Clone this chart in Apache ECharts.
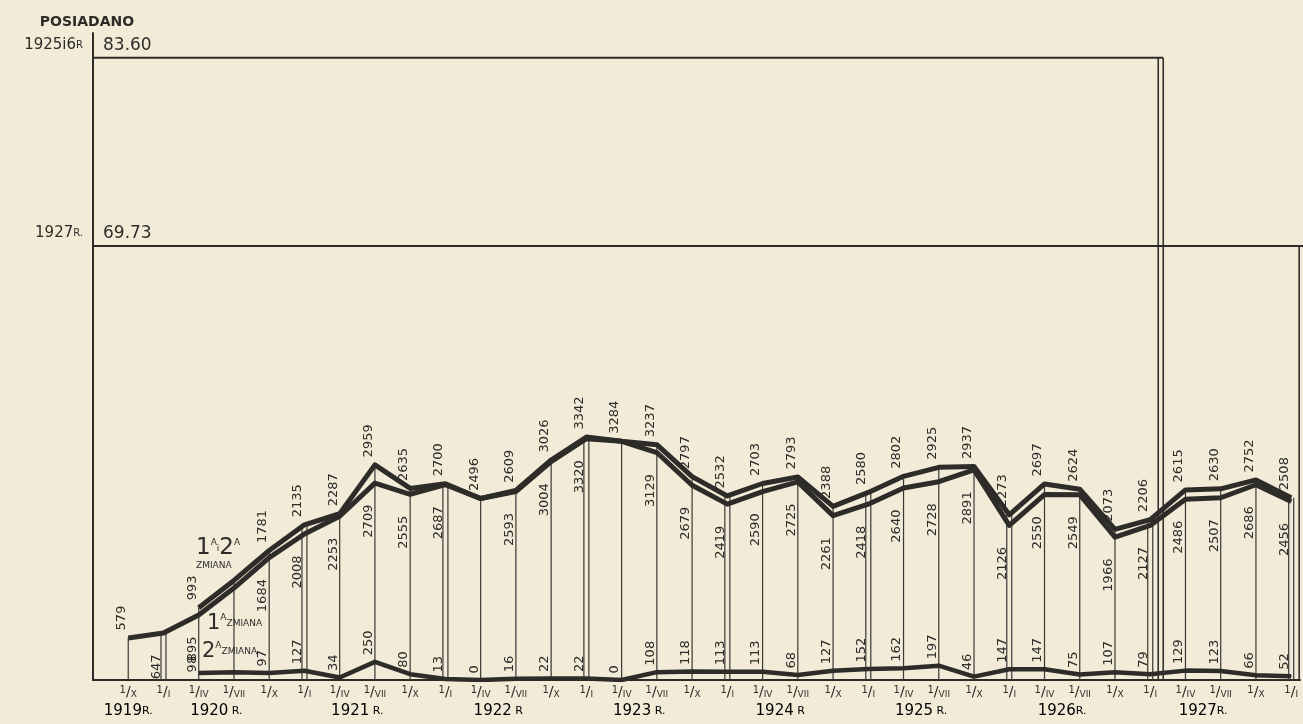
<!DOCTYPE html>
<html><head><meta charset="utf-8">
<script src="https://cdn.jsdelivr.net/npm/echarts@6/dist/echarts.min.js"></script>
<style>html,body{margin:0;padding:0;background:#f1ebd8}#c{width:1303px;height:724px}</style>
</head><body><div id="c"></div>
<script>
// quarters: 1/X 1919 ... 1/I 1928
const quarterLabels = ['X','I','IV','VII','X','I','IV','VII','X','I','IV','VII','X','I','IV','VII','X','I','IV','VII','X','I','IV','VII','X','I','IV','VII','X','I','IV','VII','X','I'];
const quarterYears = [1919,1920,1920,1920,1920,1921,1921,1921,1921,1922,1922,1922,1922,1923,1923,1923,1923,1924,1924,1924,1924,1925,1925,1925,1925,1926,1926,1926,1926,1927,1927,1927,1927,1928];
const yearValues = [1919,1920,1921,1922,1923,1924,1925,1926,1927];
const yearDigits = ['1919','1920','1921','1922','1923','1924','1925','1926','1927'];
const yearSuffix = ['R.',' R.',' R.',' R',' R.',' R',' R.','R.','R.'];
// 1a i 2a zmiana (both shifts)
const totalShifts = [null,null,993,1370,1781,2135,2287,2959,2635,2700,2496,2609,3026,3342,3284,3237,2797,2532,2703,2793,2388,2580,2802,2925,2937,2273,2697,2624,2073,2206,2615,2630,2752,2508];
// 1a zmiana (first shift)
const firstShift = [579,647,895,1265,1684,2008,2253,2709,2555,2687,2496,2593,3004,3320,3284,3129,2679,2419,2590,2725,2261,2418,2640,2728,2891,2126,2550,2549,1966,2127,2486,2507,2686,2456];
// 2a zmiana (second shift)
const secondShift = [null,null,98,105,97,127,34,250,80,13,0,16,22,22,0,108,118,113,113,68,127,152,162,197,46,147,147,75,107,79,129,123,66,52];
const unlabeled = [3];
// "posiadano" reference levels
const capacityValues = [8560, 5970];
const capacityLabels = ['83.60','69.73'];
const capacityYears = ['1925i6', '1927'];
const capacityYearSuffix = ['R', 'R.'];
const capacityEnd = [29, 33];

const INK = '#2e2c29';
const FONT = "'DejaVu Sans', sans-serif";

const chart = echarts.init(document.getElementById('c'), null, {renderer: 'canvas'});

function pairs(arr) { return arr.map((v, i) => [i, v]).filter(d => d[1] != null); }

const yearCenters = yearValues.map(y => {
  const idx = quarterYears.map((q, i) => q === y ? i : -1).filter(i => i >= 0);
  return idx.reduce((a, b) => a + b, 0) / idx.length;
});

const labelBase = {show: true, rotate: 90, color: INK, fontFamily: FONT, fontSize: 13};

const firstData = pairs(firstShift).map(d => {
  const item = {value: d};
  const i = d[0];
  if (i === 0) item.label = {position: 'top', distance: 7, align: 'left', verticalAlign: 'bottom'};
  if (unlabeled.includes(i) || secondShift[i] === 0) item.label = {show: false};
  return item;
});
const hideIdx = (arr) => pairs(arr).map(d => unlabeled.includes(d[0]) ? {value: d, label: {show: false}} : {value: d});
const secondData = hideIdx(secondShift).map((item, n) => n === 0 ? Object.assign(item, {label: {distance: 0}}) : item);

const option = {
  backgroundColor: '#f1ebd8',
  animation: false,
  grid: {left: 93, right: 0, top: 33, bottom: 44, containLabel: false},
  xAxis: {
    type: 'value', min: -1, max: 33.25, interval: 1,
    axisLine: {show: true, onZero: false, lineStyle: {color: INK, width: 2}},
    axisTick: {show: false}, splitLine: {show: false},
    axisLabel: {
      margin: 5, color: INK, fontFamily: FONT,
      formatter: v => {
        const k = Math.round(v);
        if (Math.abs(v - k) > 1e-6 || k < 0 || k >= quarterLabels.length) return '';
        return '{a|1}{s|/}{b|' + quarterLabels[k] + '}';
      },
      rich: {
        a: {fontSize: 10, fontFamily: FONT, color: INK, padding: [0, 0, 5, 0]},
        s: {fontSize: 14, fontFamily: FONT, color: INK},
        b: {fontSize: 9, fontFamily: FONT, color: INK, padding: [5, 0, 0, 0]}
      }
    }
  },
  yAxis: {
    type: 'value', min: 0, max: 8900,
    axisLine: {show: true, onZero: false, lineStyle: {color: INK, width: 2}},
    axisTick: {show: false}, axisLabel: {show: false}, splitLine: {show: false}
  },
  series: [
    {
      type: 'custom', name: 'drop', z: 1, silent: true,
      data: firstShift.map((v, i) => [i, totalShifts[i] != null ? totalShifts[i] : v]),
      encode: {x: 0, y: 1},
      renderItem: (params, api) => {
        const i = api.value(0), v = api.value(1);
        const top = api.coord([i, v]), bot = api.coord([i, 0]);
        const style = {stroke: '#3a3835', lineWidth: 1.2};
        if (quarterLabels[i] === 'I') {
          return {type: 'group', children: [-2.5, 2.5].map(dx => ({
            type: 'line', shape: {x1: top[0] + dx, y1: top[1], x2: bot[0] + dx, y2: bot[1]}, style
          }))};
        }
        return {type: 'line', shape: {x1: top[0], y1: top[1], x2: bot[0], y2: bot[1]}, style};
      }
    },
    {
      type: 'custom', name: 'frames', z: 1, silent: true,
      data: capacityValues.map((v, i) => [capacityEnd[i], v, i]),
      encode: {x: 0, y: 1},
      renderItem: (params, api) => {
        const end = api.value(0), level = api.value(1), k = api.value(2);
        const pl = api.coord([-1, level]);
        const pr = api.coord([end, level]);
        const pb = api.coord([end, 0]);
        const xr = pr[0] + 8;
        const style = {stroke: '#34322f', lineWidth: 1.6};
        const children = [
          {type: 'line', shape: {x1: pl[0], y1: pl[1], x2: xr + 5, y2: pr[1]}, style: {stroke: INK, lineWidth: 2}},
          {type: 'line', shape: {x1: xr, y1: pr[1], x2: xr, y2: pb[1]}, style},
          {type: 'line', shape: {x1: xr + 5, y1: pr[1], x2: xr + 5, y2: pb[1]}, style},
          {type: 'text', style: {text: capacityLabels[k], x: pl[0] + 10, y: pl[1] - 4, textAlign: 'left', textVerticalAlign: 'bottom', font: '17px ' + FONT, fill: INK}},
          {type: 'text', style: {text: '{y|' + capacityYears[k] + '}{r|' + capacityYearSuffix[k] + '}', x: pl[0] - 10, y: pl[1] - 5, textAlign: 'right', textVerticalAlign: 'bottom', fill: INK,
            rich: {y: {fontSize: 15, fontFamily: FONT, fill: INK, color: INK}, r: {fontSize: 10, fontFamily: FONT, fill: INK, color: INK}}}}
        ];
        if (k === 0) {
          children.push({type: 'text', style: {text: 'POSIADANO', x: pl[0] - 6, y: pl[1] - 28, textAlign: 'center', textVerticalAlign: 'bottom', font: 'bold 14px ' + FONT, fill: INK}});
        }
        return {type: 'group', children};
      }
    },
    {
      type: 'custom', name: 'years', z: 1, silent: true,
      data: yearCenters.map((c, i) => [c, 0, i]),
      encode: {x: 0, y: 1},
      renderItem: (params, api) => {
        const p = api.coord([api.value(0), 0]);
        const k = api.value(2);
        return {type: 'text', style: {
          text: '{y|' + yearDigits[k] + '}{r|' + yearSuffix[k] + '}',
          x: p[0], y: p[1] + 31, textAlign: 'center', textVerticalAlign: 'middle',
          rich: {y: {fontSize: 15, fontFamily: FONT, color: INK}, r: {fontSize: 11, fontFamily: FONT, color: INK}}
        }};
      }
    },
    {
      type: 'line', name: '1a i 2a zmiana', z: 3,
      data: hideIdx(totalShifts),
      symbol: 'circle', symbolSize: 1, showSymbol: true,
      itemStyle: {color: INK},
      lineStyle: {color: INK, width: 5, join: 'round'},
      label: Object.assign({}, labelBase, {position: 'top', distance: 7, align: 'left', verticalAlign: 'bottom', formatter: p => p.value[1]})
    },
    {
      type: 'line', name: '1a zmiana', z: 3,
      data: firstData,
      symbol: 'circle', symbolSize: 1, showSymbol: true,
      itemStyle: {color: INK},
      lineStyle: {color: INK, width: 5, join: 'round'},
      label: Object.assign({}, labelBase, {position: 'bottom', distance: 21, align: 'right', verticalAlign: 'bottom', formatter: p => p.value[1]})
    },
    {
      type: 'line', name: '2a zmiana', z: 3,
      data: secondData,
      symbol: 'circle', symbolSize: 1, showSymbol: true,
      itemStyle: {color: INK},
      lineStyle: {color: INK, width: 4.5, join: 'round'},
      label: Object.assign({}, labelBase, {position: 'top', distance: 6, align: 'left', verticalAlign: 'bottom', formatter: p => p.value[1]})
    }
  ],
  graphic: [
    {type: 'text', left: 196, top: 537, z: 10, style: {
      text: '{n|1}{s|A}{i|i}{n|2}{s|A}\n{z|ZMIANA}',
      rich: {n: {fontSize: 23, fontFamily: FONT, color: INK, fill: INK}, s: {fontSize: 9, fontFamily: FONT, color: INK, fill: INK, padding: [0, 0, 12, 0]}, i: {fontSize: 9, fontFamily: FONT, color: INK, fill: INK}, z: {fontSize: 9, fontFamily: FONT, color: INK, fill: INK, lineHeight: 12}}
    }},
    {type: 'text', left: 207, top: 613, z: 10, style: {
      text: '{n|1}{s|A}{z|ZMIANA}',
      rich: {n: {fontSize: 21, fontFamily: FONT, color: INK, fill: INK}, s: {fontSize: 9, fontFamily: FONT, color: INK, fill: INK, padding: [0, 0, 12, 0]}, z: {fontSize: 9, fontFamily: FONT, color: INK, fill: INK}}
    }},
    {type: 'text', left: 202, top: 641, z: 10, style: {
      text: '{n|2}{s|A}{z|ZMIANA}',
      rich: {n: {fontSize: 21, fontFamily: FONT, color: INK, fill: INK}, s: {fontSize: 9, fontFamily: FONT, color: INK, fill: INK, padding: [0, 0, 12, 0]}, z: {fontSize: 9, fontFamily: FONT, color: INK, fill: INK}}
    }}
  ]
};
chart.setOption(option);
</script>
</body></html>
